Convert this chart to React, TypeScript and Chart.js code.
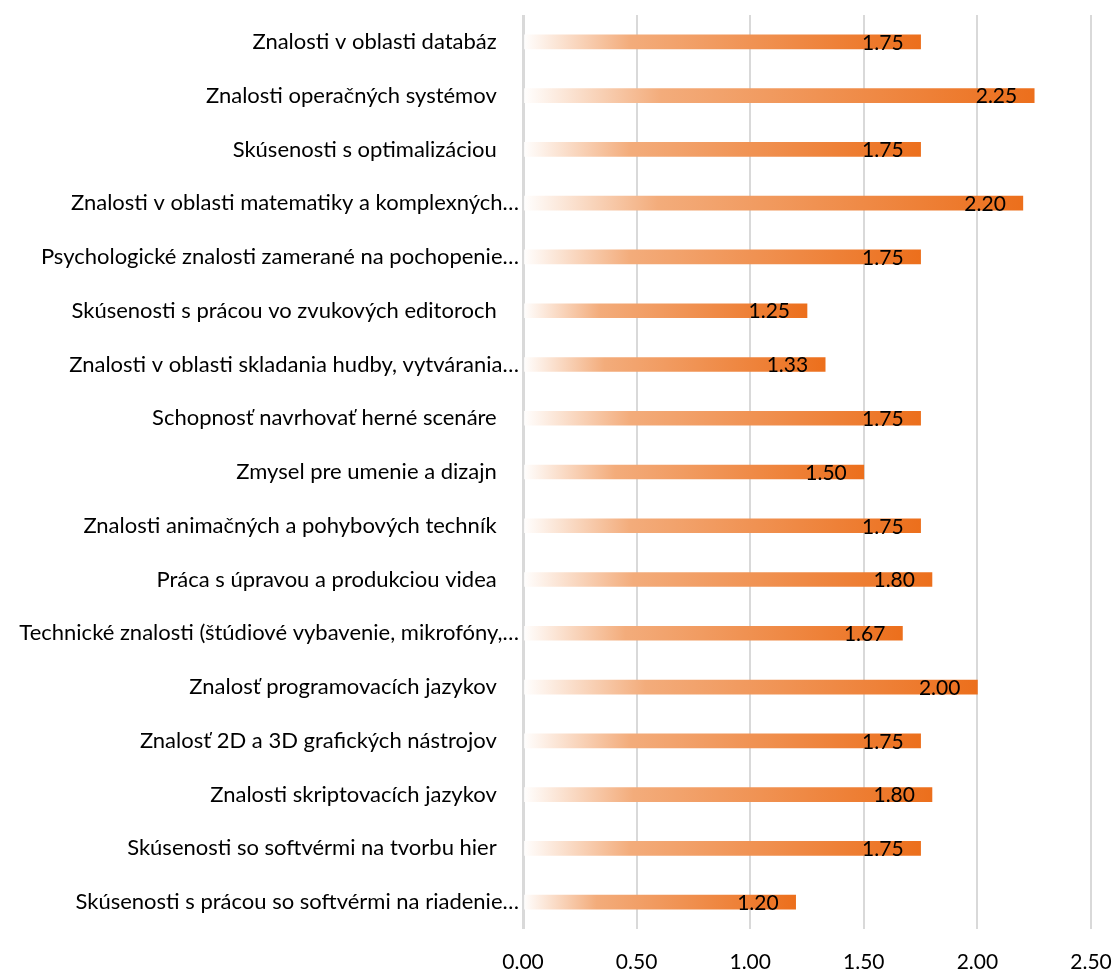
import React, { useEffect, useRef } from "react";
import { Chart, registerables } from "chart.js";

Chart.register(...registerables);

// Non-truncated labels keep Excel's trailing blank space.
const TRAIL = "\u2002  ";

const categories = [
  "Znalosti v oblasti databáz" + TRAIL,
  "Znalosti operačných systémov" + TRAIL,
  "Skúsenosti s optimalizáciou" + TRAIL,
  "Znalosti v oblasti matematiky a komplexných…",
  "Psychologické znalosti zamerané na pochopenie…",
  "Skúsenosti s prácou vo zvukových editoroch" + TRAIL,
  "Znalosti v oblasti skladania hudby, vytvárania…",
  "Schopnosť navrhovať herné scenáre" + TRAIL,
  "Zmysel pre umenie a dizajn" + TRAIL,
  "Znalosti animačných a pohybových techník" + TRAIL,
  "Práca s úpravou a produkciou videa" + TRAIL,
  "Technické znalosti (štúdiové vybavenie, mikrofóny,…",
  "Znalosť programovacích jazykov" + TRAIL,
  "Znalosť 2D a 3D grafických nástrojov" + TRAIL,
  "Znalosti skriptovacích jazykov" + TRAIL,
  "Skúsenosti so softvérmi na tvorbu hier" + TRAIL,
  "Skúsenosti s prácou so softvérmi na riadenie…",
];

const values = [1.75, 2.25, 1.75, 2.2, 1.75, 1.25, 1.33, 1.75, 1.5, 1.75, 1.8, 1.67, 2.0, 1.75, 1.8, 1.75, 1.2];

const xMin = 0;
const xMax = 2.5;
const xStep = 0.5;

const FONT = "Lato, 'Noto Sans', sans-serif";

const valueLabelPlugin = {
  id: "valueLabels",
  afterDatasetsDraw(chart: any) {
    const ctx = chart.ctx;
    const meta = chart.getDatasetMeta(0);
    ctx.save();
    ctx.font = `21px ${FONT}`;
    ctx.fillStyle = "#000";
    ctx.textAlign = "right";
    ctx.textBaseline = "middle";
    meta.data.forEach((el: any, i: number) => {
      const v = chart.data.datasets[0].data[i] as number;
      ctx.fillText(v.toFixed(2), el.x - 17, el.y + 1);
    });
    ctx.restore();
  },
};

export default function App() {
  const ref = useRef<HTMLCanvasElement>(null);
  useEffect(() => {
    if (!ref.current) return;
    const chart = new Chart(ref.current, {
      type: "bar",
      data: {
        labels: categories,
        datasets: [
          {
            data: values,
            barThickness: 14,
            backgroundColor: (c: any) => {
              const chart = c.chart;
              const xs = chart.scales?.x;
              if (!chart.chartArea || !xs || c.raw == null) return "#F09A5E";
              const x0 = xs.getPixelForValue(0);
              const x1 = xs.getPixelForValue(c.raw);
              const g = chart.ctx.createLinearGradient(x0, 0, x1, 0);
              g.addColorStop(0, "#FFFFFF");
              g.addColorStop(0.27, "#F3AC7B");
              g.addColorStop(1, "#EC6F1C");
              return g;
            },
            borderWidth: 0,
          },
        ],
      },
      options: {
        indexAxis: "y",
        animation: false,
        responsive: false,
        layout: { padding: { top: 15, right: 22, left: 0, bottom: 0 } },
        plugins: {
          legend: { display: false },
          tooltip: { enabled: false },
        },
        scales: {
          x: {
            min: xMin,
            max: xMax,
            afterFit: (s: any) => {
              s.height = 41;
              s.paddingLeft = 0;
              s.paddingRight = 0;
            },
            ticks: {
              stepSize: xStep,
              padding: 21,
              color: "#000",
              font: { family: FONT, size: 21 },
              callback: (v: any) => Number(v).toFixed(2),
            },
            grid: {
              color: "#D9D9D9",
              lineWidth: (c: any) => (c.index === 0 ? 3 : 2),
              drawTicks: false,
            },
            border: { display: false },
          },
          y: {
            afterFit: (s: any) => {
              s.width = 523;
              s.paddingTop = 0;
              s.paddingBottom = 0;
            },
            ticks: {
              padding: 4,
              color: "#000",
              autoSkip: false,
              font: { family: FONT, size: 22 },
            },
            grid: { display: false, drawTicks: false },
            border: { display: false },
          },
        },
      },
      plugins: [valueLabelPlugin],
    } as any);
    return () => chart.destroy();
  }, []);
  return (
    <canvas
      ref={ref}
      width={1113}
      height={970}
      style={{ position: "absolute", left: 0, top: 0, display: "block" }}
    />
  );
}
